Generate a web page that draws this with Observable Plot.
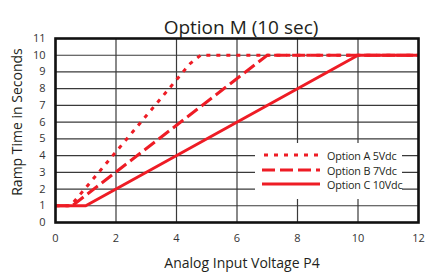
<!DOCTYPE html>
<html>
<head>
<meta charset="utf-8">
<script src="https://cdn.jsdelivr.net/npm/d3@7"></script>
<script src="https://cdn.jsdelivr.net/npm/@observablehq/plot@0.6"></script>
<style>
  html, body { margin: 0; padding: 0; background: #fff; }
  #wrap { position: relative; width: 426px; height: 276px; font-family: "Open Sans", sans-serif; }
  #legend { position: absolute; left: 255px; top: 143px; width: 147px; height: 56px; background: #fff; }
  .row { position: absolute; left: 0; height: 14px; display: flex; align-items: center; }
  .row svg { display: block; }
  .row span { font-size: 10.8px; color: #231f20; margin-left: 7px; white-space: nowrap; letter-spacing: -0.15px; }
</style>
</head>
<body>
<div id="wrap"></div>
<script>
// ---- data ----
const title = "Option M (10 sec)";
const xLabel = "Analog Input Voltage P4";
const yLabel = "Ramp Time in Seconds";
const seriesNames = ["Option A 5Vdc", "Option B 7Vdc", "Option C 10Vdc"];
const voltsA = [0, 0.5, 4.45, 4.8, 12];
const rampA  = [1, 1, 9.5, 10, 10];
const voltsB = [0, 0.55, 7.0, 12];
const rampB  = [1, 1, 10, 10];
const voltsC = [0, 1, 10, 12];
const rampC  = [1, 1, 10, 10];
const xTicks = [0, 2, 4, 6, 8, 10, 12];
const yTicks = [0, 1, 2, 3, 4, 5, 6, 7, 8, 9, 10, 11];

const red = "#ee1c25";
const dashes = ["4,6", "13,5", null];

const toRows = (xs, ys, name) => xs.map((v, i) => ({volts: v, ramp: ys[i], series: name}));
const series = [
  toRows(voltsA, rampA, seriesNames[0]),
  toRows(voltsB, rampB, seriesNames[1]),
  toRows(voltsC, rampC, seriesNames[2])
];

const chart = Plot.plot({
  width: 426,
  height: 276,
  marginLeft: 55,
  marginRight: 8,
  marginTop: 38,
  marginBottom: 54,
  x: {domain: [0, 12]},
  y: {domain: [0, 11]},
  style: {fontFamily: "Open Sans, sans-serif", background: "#fff", overflow: "visible"},
  marks: [
    Plot.gridX(xTicks, {stroke: "#3a3a3a", strokeOpacity: 1, strokeWidth: 1.2}),
    Plot.gridY(yTicks, {stroke: "#3a3a3a", strokeOpacity: 1, strokeWidth: 1.2}),
    Plot.axisX(xTicks, {tickSize: 0, tickPadding: 12, fontSize: 11, fill: "#333", label: null}),
    Plot.axisY(yTicks, {tickSize: 0, tickPadding: 10, fontSize: 11, fill: "#333", label: null}),
    ...series.map((rows, i) => Plot.line(rows, {
      x: "volts", y: "ramp", stroke: red, strokeWidth: 3,
      strokeDasharray: dashes[i], strokeLinecap: "butt", strokeLinejoin: "round"
    })),
    Plot.frame({stroke: "#111", strokeWidth: 2.6}),
    Plot.text([title], {frameAnchor: "top", dx: 4, dy: -18, fontSize: 19, fill: "#231f20"}),
    Plot.text([xLabel], {frameAnchor: "bottom", dx: 5, dy: 45, fontSize: 14, fill: "#231f20"}),
    Plot.text([yLabel], {frameAnchor: "left", textAnchor: "middle", rotate: -90, dx: -38, dy: -8.5, fontSize: 14, fill: "#231f20"})
  ]
});

const wrap = document.getElementById("wrap");
wrap.appendChild(chart);

// legend overlay
const legend = document.createElement("div");
legend.id = "legend";
const rowTops = [5, 20, 34];
seriesNames.forEach((name, i) => {
  const row = document.createElement("div");
  row.className = "row";
  row.style.top = rowTops[i] + "px";
  row.style.left = (i === 0 ? 9 : 7) + "px";
  const w = i === 0 ? 56 : 58;
  const svg = d3.create("svg").attr("width", w).attr("height", 14);
  svg.append("line")
    .attr("x1", 0).attr("x2", w).attr("y1", 7).attr("y2", 7)
    .attr("stroke", red).attr("stroke-width", 3)
    .attr("stroke-dasharray", dashes[i] ?? null);
  row.appendChild(svg.node());
  const span = document.createElement("span");
  span.textContent = name;
  row.appendChild(span);
  legend.appendChild(row);
});
wrap.appendChild(legend);
</script>
</body>
</html>
